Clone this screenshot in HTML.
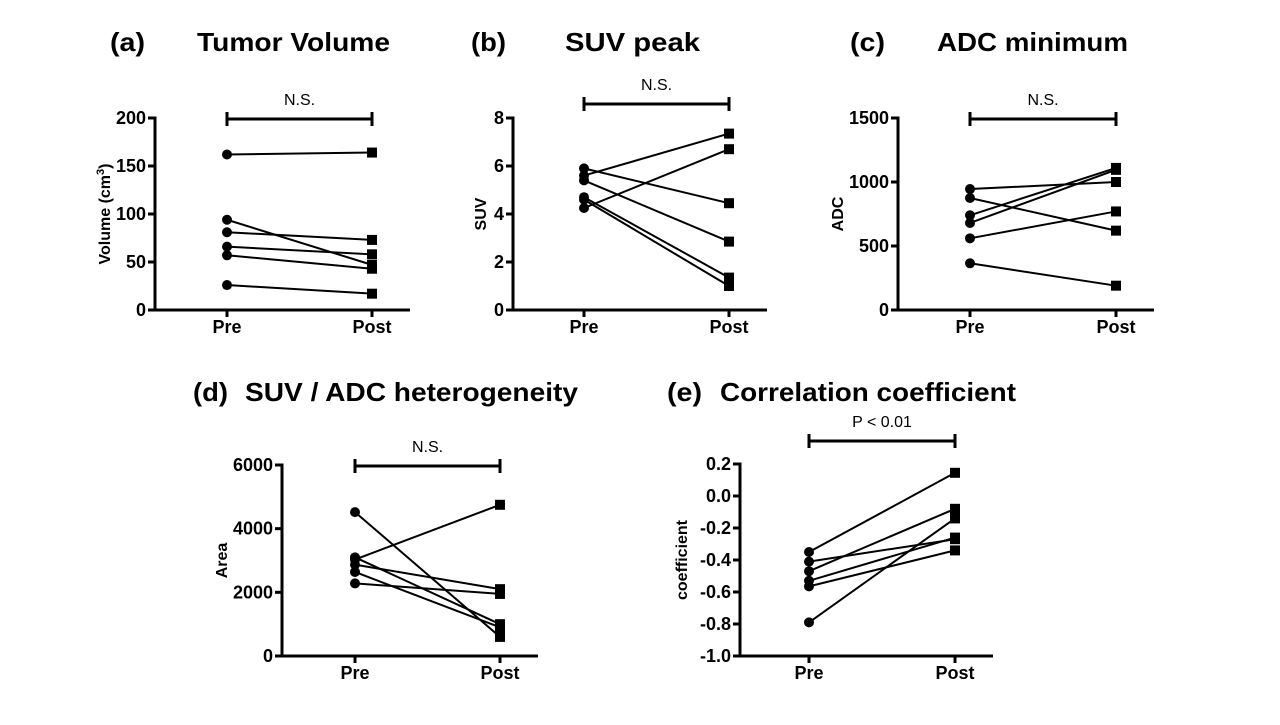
<!DOCTYPE html>
<html><head><meta charset="utf-8"><style>
body{margin:0;background:#fff;width:1280px;height:720px;overflow:hidden}
svg text{font-family:"Liberation Sans",Arial,sans-serif}
</style></head><body>
<svg id="fig" width="1280" height="720" viewBox="0 0 1280 720" xmlns="http://www.w3.org/2000/svg"></svg>
<script>
const categories = ["Pre","Post"];
const volPre = [162,94,81,66,57,26];
const volPost = [164,47,73,58,43,17];
const suvPre = [5.6,4.25,5.9,5.4,4.7,4.6];
const suvPost = [7.35,6.7,4.45,2.85,1.35,1.0];
const adcPre = [945,875,740,680,560,365];
const adcPost = [1000,620,1110,1095,770,190];
const areaPre = [4520,3030,3100,2870,2640,2280];
const areaPost = [600,4750,1000,2100,900,1950];
const corrPre = [-0.35,-0.41,-0.47,-0.53,-0.565,-0.79];
const corrPost = [0.145,-0.27,-0.08,-0.26,-0.34,-0.14];
const volTicks = [0,50,100,150,200];
const suvTicks = [0,2,4,6,8];
const adcTicks = [0,500,1000,1500];
const areaTicks = [0,2000,4000,6000];
const corrTicks = [-1.0,-0.8,-0.6,-0.4,-0.2,0.0,0.2];

const svg=document.getElementById('fig');
const NS='http://www.w3.org/2000/svg';
function mk(tag,attrs,parent){const e=document.createElementNS(NS,tag);for(const k in attrs)e.setAttribute(k,attrs[k]);(parent||svg).appendChild(e);return e;}

function panel(o){
  const g=mk('g',{});
  
  
  const ymin=o.ticks[0],ymax=o.ticks[o.ticks.length-1];
  const y=v=>o.y0-(v-ymin)/(ymax-ymin)*(o.y0-o.y1);
  const xs=[o.xPre,o.xPost];
  const tl=mk('text',{x:o.labX,y:o.titleY,'font-size':26,'font-weight':'bold',textLength:35,lengthAdjust:'spacingAndGlyphs'},g);tl.textContent=o.label;
  
  const tt=mk('text',{x:o.titleX,y:o.titleY,'font-size':26,'font-weight':'bold',textLength:o.titleW,lengthAdjust:'spacingAndGlyphs'},g);tt.textContent=o.title;
  
  const ya=mk('line',{x1:o.ax,y1:o.y1-1.5,x2:o.ax,y2:o.y0+1.5,stroke:'#000','stroke-width':3},g);
  
  const xa=mk('line',{x1:o.ax-1.5,y1:o.y0,x2:o.xEnd,y2:o.y0,stroke:'#000','stroke-width':3},g);
  
  o.ticks.forEach(t=>{
    mk('line',{x1:o.ax-7,y1:y(t),x2:o.ax,y2:y(t),stroke:'#000','stroke-width':3},g);
    const tx=mk('text',{x:o.ax-9,y:y(t)+6,'font-size':18,'font-weight':'bold','text-anchor':'end'},g);
    tx.textContent=o.fmt?o.fmt(t):t;
    
  });
  categories.forEach((c,i)=>{
    mk('line',{x1:xs[i],y1:o.y0,x2:xs[i],y2:o.y0+7,stroke:'#000','stroke-width':3},g);
    const tx=mk('text',{x:xs[i],y:o.y0+23,'font-size':18,'font-weight':'bold','text-anchor':'middle'},g);
    tx.textContent=c;
    
  });
  const yl=mk('text',{x:0,y:0,'font-size':16,'font-weight':'bold','text-anchor':'middle',transform:`translate(${o.ylX},${(o.y0+o.y1)/2}) rotate(-90)`},g);
  yl.innerHTML=o.ylabel;
  
  const br=mk('path',{d:`M${o.xPre},${o.bY-7}V${o.bY+7}M${o.xPre},${o.bY}H${o.xPost}M${o.xPost},${o.bY-7}V${o.bY+7}`,stroke:'#000','stroke-width':3,fill:'none'},g);
  
  const st=mk('text',{x:(o.xPre+o.xPost)/2,y:o.bY-14,'font-size':16,'text-anchor':'middle'},g);
  st.textContent=o.sig;
  
  o.pre.forEach((p,i)=>{
    const q=o.post[i];
    const ln=mk('line',{x1:o.xPre,y1:y(p),x2:o.xPost,y2:y(q),stroke:'#000','stroke-width':2},g);
    
    const c=mk('circle',{cx:o.xPre,cy:y(p),r:5},g);
    
    const s=mk('rect',{x:o.xPost-5,y:y(q)-5,width:10,height:10},g);
    
  });
}
panel({name:'panel-a-tumor-volume',label:'(a)',title:'Tumor Volume',titleW:193,labX:110,titleX:197,titleY:51,ax:155,y0:310,y1:118,xPre:227,xPost:372,xEnd:410,ticks:volTicks,pre:volPre,post:volPost,ylabel:'Volume (cm<tspan baseline-shift="super" font-size="11">3</tspan>)',ylX:110,bY:119,sig:'N.S.'});
panel({name:'panel-b-suv-peak',label:'(b)',title:'SUV peak',titleW:135,labX:471,titleX:565,titleY:51,ax:513,y0:310,y1:118,xPre:584,xPost:729,xEnd:767,ticks:suvTicks,pre:suvPre,post:suvPost,ylabel:'SUV',ylX:486,bY:104,sig:'N.S.'});
panel({name:'panel-c-adc-minimum',label:'(c)',title:'ADC minimum',titleW:191,labX:850,titleX:937,titleY:51,ax:898,y0:310,y1:118,xPre:970,xPost:1116,xEnd:1154,ticks:adcTicks,pre:adcPre,post:adcPost,ylabel:'ADC',ylX:843,bY:119,sig:'N.S.'});
panel({name:'panel-d-heterogeneity',label:'(d)',title:'SUV / ADC heterogeneity',titleW:333,labX:193,titleX:245,titleY:401,ax:282,y0:656,y1:465,xPre:355,xPost:500,xEnd:538,ticks:areaTicks,pre:areaPre,post:areaPost,ylabel:'Area',ylX:227,bY:466,sig:'N.S.'});
panel({name:'panel-e-correlation',label:'(e)',title:'Correlation coefficient',titleW:296,labX:667,titleX:720,titleY:401,ax:740,y0:656,y1:464,xPre:809,xPost:955,xEnd:993,ticks:corrTicks,pre:corrPre,post:corrPost,fmt:t=>t.toFixed(1),ylabel:'coefficient',ylX:687,bY:441,sig:'P < 0.01'});
</script>
</body></html>
